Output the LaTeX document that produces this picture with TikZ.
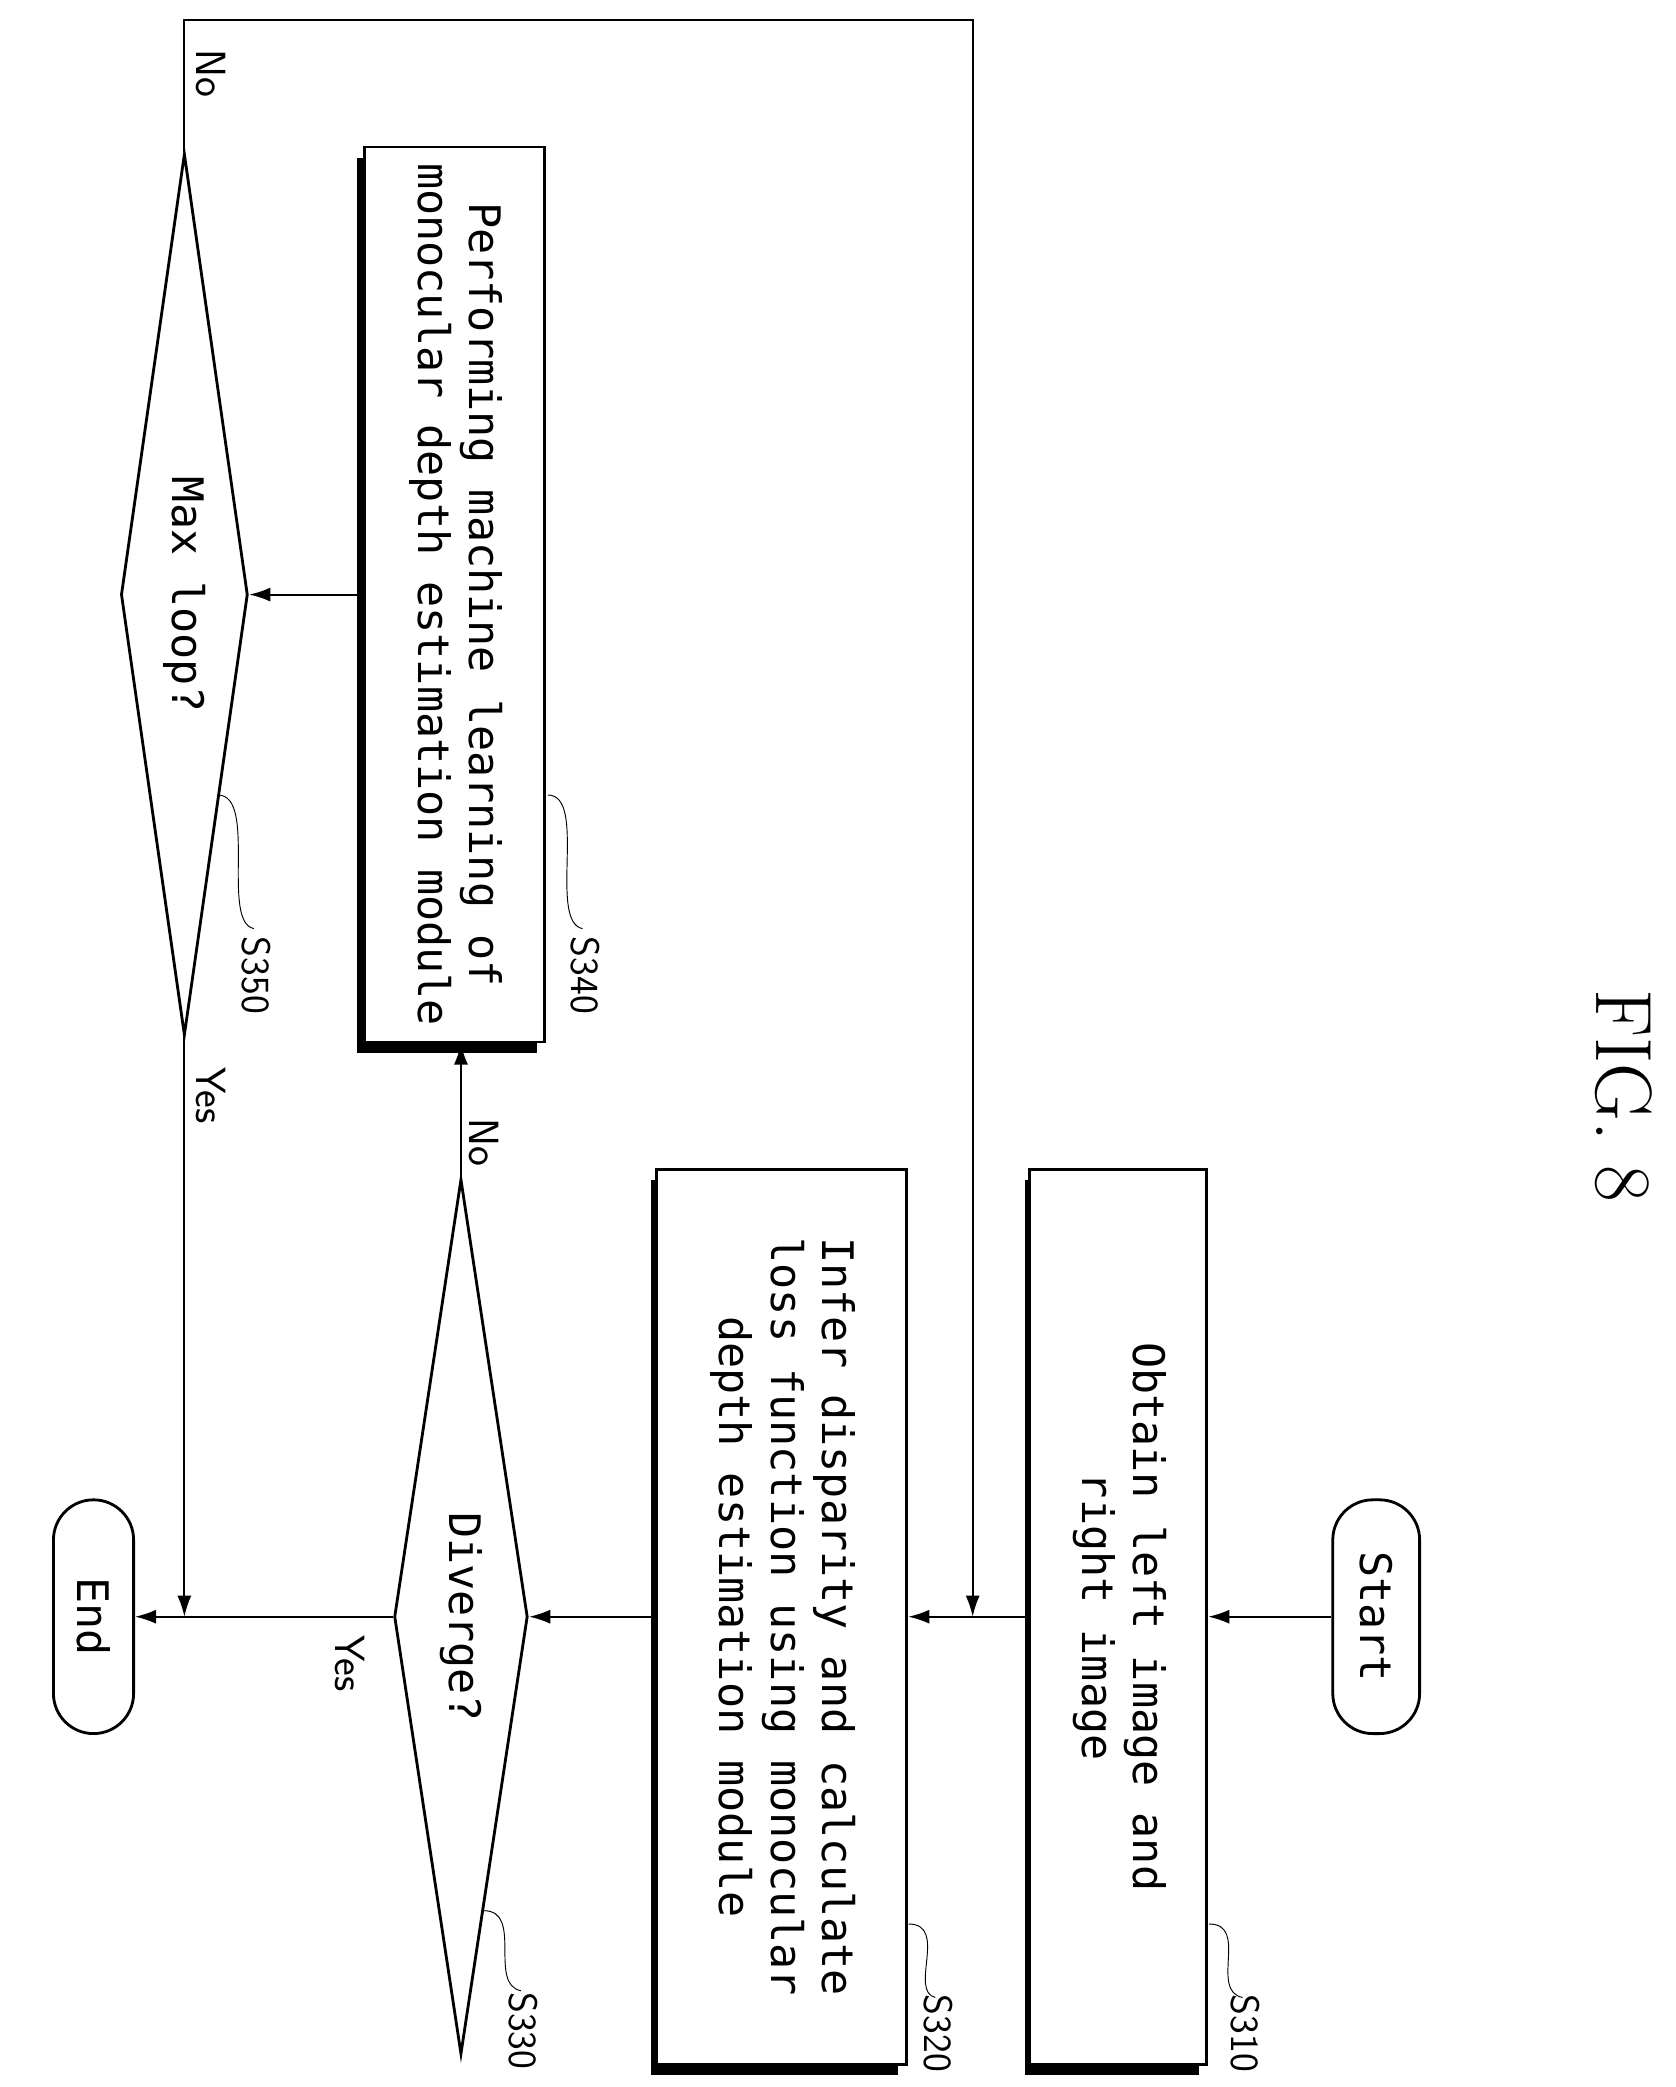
\documentclass[tikz,border=0pt]{standalone}
\usepackage{fontspec}
\setmonofont{DejaVu Sans Mono}
\usetikzlibrary{shapes.geometric,arrows.meta}
\tikzset{
  stepbox/.style={draw, line width=1.2pt, fill=white, inner sep=0pt, font=\ttfamily\fontsize{18.5}{22}\selectfont},
  decision/.style={diamond, draw, line width=1.2pt, inner sep=0pt, font=\ttfamily\fontsize{18.5}{22}\selectfont},
  terminal/.style={draw, line width=1.2pt, rounded corners=0.6cm, inner sep=0pt, font=\ttfamily\fontsize{18.5}{22}\selectfont},
  steplabel/.style={rotate=-90, anchor=east, font=\sffamily\fontsize{17}{20}\selectfont},
  flow/.style={line width=0.8pt, -{Latex[length=9pt,width=6pt]}}
}
\newcommand{\rottext}[1]{\rotatebox{-90}{\begin{tabular}{c}#1\end{tabular}}}
\begin{document}
\begin{tikzpicture}[x=0.02cm, y=-0.02cm]
\useasboundingbox (0,0) rectangle (1254,1562);
% title
\node[rotate=-90, font=\fontsize{34}{36}\selectfont] (fig) at (1215,820) {FIG. 8};
% shadows
\fill (767,883) rectangle (897,1553);
\fill (487,883) rectangle (672,1553);
\fill (267,118) rectangle (402,788);
% nodes
\node[terminal, minimum width=1.3cm, minimum height=3.5cm] (start) at (1030,1210) {\rotatebox{-90}{Start}};
\node[stepbox, minimum width=2.65cm, minimum height=13.4cm] (s310) at (837,1210) {\rottext{Obtain left image and\\right image}};
\node[stepbox, minimum width=3.75cm, minimum height=13.4cm] (s320) at (585,1210) {\rottext{Infer disparity and calculate\\loss function using monocular\\depth estimation module}};
\node[decision, minimum width=2cm, minimum height=13.1cm, aspect=0.15] (s330) at (345,1210) {\rotatebox{-90}{Diverge?}};
\node[terminal, minimum width=1.2cm, minimum height=3.5cm] (end) at (70,1210) {\rotatebox{-90}{End}};
\node[stepbox, minimum width=2.7cm, minimum height=13.4cm] (s340) at (340,445) {\rottext{Performing machine learning of\\monocular depth estimation module}};
\node[decision, minimum width=1.9cm, minimum height=13.2cm, aspect=0.15] (s350) at (138,445) {\rotatebox{-90}{Max loop?}};
\coordinate (topl) at (138,15);
\coordinate (topr) at (728,15);
\coordinate (back) at (728,1210);
\coordinate (join) at (138,1210);
% connectors
\draw[flow] (start) -- (s310);
\draw[flow] (s310) -- (s320);
\draw[flow] (s320) -- (s330);
\draw[flow] (s330) -- (end);
\draw[flow] (s330.north) -- (s330.north |- s340.south);
\draw[flow] (s340) -- (s350);
\draw[flow] (s350.south) -- (join);
\draw[flow] (s350.north) -- (topl) -- (topr) -- (back);
% yes / no
\node[rotate=-90, font=\sffamily\fontsize{18}{20}\selectfont] (no1) at (158,55) {No};
\node[rotate=-90, font=\sffamily\fontsize{18}{20}\selectfont] (yes1) at (158,820) {Yes};
\node[rotate=-90, font=\sffamily\fontsize{18}{20}\selectfont] (no2) at (362,855) {No};
\node[rotate=-90, font=\sffamily\fontsize{18}{20}\selectfont] (yes2) at (262,1245) {Yes};
% step labels
\draw (905,1440) .. controls (935,1440) and (905,1490) .. (930,1495);
\node[steplabel] (l310) at (932,1557) {S310};
\draw (680,1440) .. controls (710,1440) and (680,1490) .. (700,1495);
\node[steplabel] (l320) at (702,1557) {S320};
\draw (362,1430) .. controls (392,1430) and (365,1485) .. (390,1490);
\node[steplabel] (l330) at (392,1555) {S330};
\draw (410,595) .. controls (440,595) and (410,690) .. (436,695);
\node[steplabel] (l340) at (438,765) {S340};
\draw (163,595) .. controls (193,595) and (165,690) .. (190,695);
\node[steplabel] (l350) at (192,765) {S350};
\end{tikzpicture}
\end{document}
